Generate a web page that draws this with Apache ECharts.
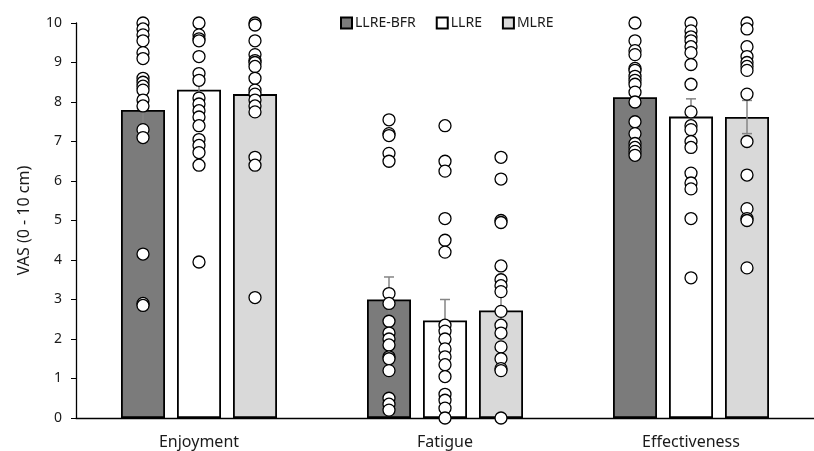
<!DOCTYPE html>
<html>
<head>
<meta charset="utf-8">
<script src="https://cdn.jsdelivr.net/npm/echarts@6/dist/echarts.min.js"></script>
<style>
html,body{margin:0;padding:0;background:#fff;}
#chart{width:814px;height:451px;}
</style>
</head>
<body>
<div id="chart"></div>
<script>
// ---- data ----
const categories = ['Enjoyment', 'Fatigue', 'Effectiveness'];
const seriesNames = ['LLRE-BFR', 'LLRE', 'MLRE'];
const yTicks = [0, 10, 1]; // min, max, interval

const meanBFR  = [7.8, 3.0, 8.12];
const meanLLRE = [8.31, 2.47, 7.63];
const meanMLRE = [8.2, 2.72, 7.62];

const seBFR  = [0.53, 0.57, 0.3];
const seLLRE = [0.3, 0.53, 0.45];
const seMLRE = [0.35, 0.5, 0.42];

const bfrEnjoyment  = [10.0, 9.85, 9.7, 9.55, 9.25, 9.1, 8.6, 8.5, 8.4, 8.3, 8.05, 7.9, 7.3, 7.1, 4.15, 2.9, 2.85];
const llreEnjoyment = [10.0, 9.7, 9.6, 9.55, 9.15, 8.72, 8.55, 8.1, 7.95, 7.78, 7.62, 7.4, 7.05, 6.9, 6.72, 6.4, 3.95];
const mlreEnjoyment = [10.0, 9.95, 9.55, 9.2, 9.05, 9.0, 8.9, 8.6, 8.3, 8.2, 8.05, 7.9, 7.75, 6.6, 6.4, 3.05];

const bfrFatigue  = [7.55, 7.2, 7.15, 6.7, 6.5, 3.15, 2.9, 2.45, 2.15, 2.0, 1.85, 1.55, 1.5, 1.2, 0.5, 0.35, 0.2];
const llreFatigue = [7.4, 6.5, 6.25, 5.05, 4.5, 4.2, 2.35, 2.2, 2.0, 1.75, 1.55, 1.35, 1.05, 0.6, 0.45, 0.25, 0.0];
const mlreFatigue = [6.6, 6.05, 5.0, 4.95, 3.85, 3.5, 3.35, 3.2, 2.7, 2.35, 2.15, 1.8, 1.5, 1.25, 1.2, 0.0];

const bfrEffectiveness  = [10.0, 9.55, 9.3, 9.2, 8.85, 8.8, 8.65, 8.55, 8.45, 8.25, 8.0, 7.5, 7.2, 6.95, 6.85, 6.75, 6.65];
const llreEffectiveness = [10.0, 9.8, 9.65, 9.55, 9.4, 9.25, 8.95, 8.45, 7.75, 7.4, 7.3, 7.0, 6.85, 6.2, 5.95, 5.8, 5.05, 3.55];
const mlreEffectiveness = [10.0, 9.85, 9.4, 9.15, 9.0, 8.9, 8.8, 8.2, 7.0, 6.15, 5.3, 5.05, 5.0, 3.8];

// ---- styling ----
const FONT = 'Noto Sans';
const TEXT = '#1a1a1a';
const barColors = ['#7b7b7b', '#ffffff', '#d9d9d9'];
const BAR_W = 44, BAR_GAP = 12;
const offsets = [-(BAR_W + BAR_GAP), 0, BAR_W + BAR_GAP];

const means = [meanBFR, meanLLRE, meanMLRE];
const ses = [seBFR, seLLRE, seMLRE];
const points = [
  [bfrEnjoyment, bfrFatigue, bfrEffectiveness],
  [llreEnjoyment, llreFatigue, llreEffectiveness],
  [mlreEnjoyment, mlreFatigue, mlreEffectiveness]
];

const series = [];
seriesNames.forEach((name, i) => {
  series.push({
    name: name,
    type: 'bar',
    data: means[i],
    barWidth: BAR_W,
    barGap: (BAR_GAP / BAR_W * 100) + '%',
    itemStyle: { color: barColors[i], borderColor: '#000', borderWidth: 1.8 },
    z: 2,
    silent: true
  });
});
seriesNames.forEach((name, i) => {
  const off = offsets[i];
  series.push({
    name: name + ' SE',
    type: 'custom',
    data: means[i].map((m, c) => [c, m, ses[i][c]]),
    encode: { x: 0, y: 1 },
    z: 3,
    silent: true,
    renderItem: function (params, api) {
      const c = api.value(0), m = api.value(1), s = api.value(2);
      const top = api.coord([c, m + s]);
      const bot = api.coord([c, m - s]);
      const x = top[0] + off;
      const cap = 5;
      const st = { stroke: '#858585', lineWidth: 1.5 };
      return {
        type: 'group',
        children: [
          { type: 'line', shape: { x1: x, y1: top[1], x2: x, y2: bot[1] }, style: st },
          { type: 'line', shape: { x1: x - cap, y1: top[1], x2: x + cap, y2: top[1] }, style: st },
          { type: 'line', shape: { x1: x - cap, y1: bot[1], x2: x + cap, y2: bot[1] }, style: st }
        ]
      };
    }
  });
});
seriesNames.forEach((name, i) => {
  const data = [];
  points[i].forEach((arr, c) => arr.forEach(v => data.push([c, v])));
  series.push({
    name: name + ' pts',
    type: 'scatter',
    data: data,
    symbol: 'circle',
    symbolSize: 12,
    symbolOffset: [offsets[i], 0],
    itemStyle: { color: '#ffffff', borderColor: '#000', borderWidth: 1.3, opacity: 1 },
    z: 4,
    silent: true
  });
});

const chart = echarts.init(document.getElementById('chart'), null, { renderer: 'canvas' });
chart.setOption({
  animation: false,
  backgroundColor: '#fff',
  textStyle: { fontFamily: FONT, color: TEXT },
  legend: {
    data: seriesNames,
    left: 335,
    top: 11,
    itemWidth: 11,
    itemHeight: 11,
    itemGap: 20,
    icon: 'rect',
    textStyle: { fontFamily: FONT, fontSize: 14, color: TEXT, padding: [0, 0, 0, -2] },
    selectedMode: false
  },
  grid: { left: 76, width: 750, top: 23, bottom: 33, containLabel: false },
  xAxis: {
    type: 'category',
    data: categories,
    axisLine: { lineStyle: { color: '#000', width: 1.3 } },
    axisTick: { alignWithLabel: true, length: 5, lineStyle: { color: '#000' } },
    axisLabel: { fontFamily: FONT, fontSize: 16, color: TEXT, margin: 16 },
    splitLine: { show: false }
  },
  yAxis: {
    type: 'value',
    min: yTicks[0],
    max: yTicks[1],
    interval: yTicks[2],
    name: 'VAS (0 - 10 cm)',
    nameLocation: 'middle',
    nameGap: 44,
    nameTextStyle: { fontFamily: FONT, fontSize: 16, color: TEXT },
    axisLine: { show: true, lineStyle: { color: '#000', width: 1.3 } },
    axisTick: { show: true, length: 5, lineStyle: { color: '#000' } },
    axisLabel: { fontFamily: FONT, fontSize: 14, color: TEXT, margin: 14 },
    splitLine: { show: false }
  },
  series: series
});
</script>
</body>
</html>
